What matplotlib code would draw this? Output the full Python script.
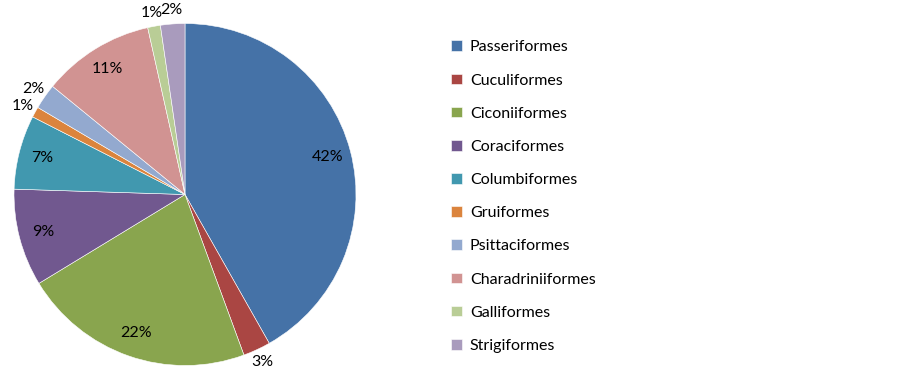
import numpy as np
import matplotlib
matplotlib.use("Agg")
import matplotlib.pyplot as plt

plt.rcParams['font.family'] = ['Lato', 'DejaVu Sans']

orders = ['Passeriformes', 'Cuculiformes', 'Ciconiiformes', 'Coraciformes',
          'Columbiformes', 'Gruiformes', 'Psittaciformes', 'Charadriniiformes',
          'Galliformes', 'Strigiformes']
shares = [41.8, 2.6, 21.9, 9.2, 7.0, 1.0, 2.4, 10.6, 1.2, 2.3]
colors = ['#4572A7', '#AA4643', '#89A54E', '#71588F', '#4198AF',
          '#DB843D', '#93A9CF', '#D19392', '#B9CD96', '#A99BBD']

fig = plt.figure(figsize=(9, 3.73), dpi=100)
ax = fig.add_axes([14 / 900, 7.5 / 373, 342 / 900, 342 / 373])

wedges, _ = ax.pie(shares, colors=colors, startangle=90, counterclock=False,
                   wedgeprops=dict(edgecolor='white', linewidth=0.4))
ax.set_xlim(-1, 1)
ax.set_ylim(-1, 1)
ax.set_aspect('equal')

total = sum(shares)
for w, v in zip(wedges, shares):
    mid = np.deg2rad((w.theta1 + w.theta2) / 2)
    r = 0.86 if v >= 5 else 1.08
    ax.text(r * np.cos(mid), r * np.sin(mid), '%.0f%%' % (100 * v / total),
            ha='center', va='center', fontsize=11.5, color='black')

fig.legend(wedges, orders, loc='upper left', bbox_to_anchor=(445 / 900, 1 - 34 / 373),
           frameon=False, fontsize=11.5, handlelength=0.65, handleheight=0.65,
           handletextpad=0.5, labelspacing=1.2, borderaxespad=0)

fig.savefig('out.png', dpi=100)
